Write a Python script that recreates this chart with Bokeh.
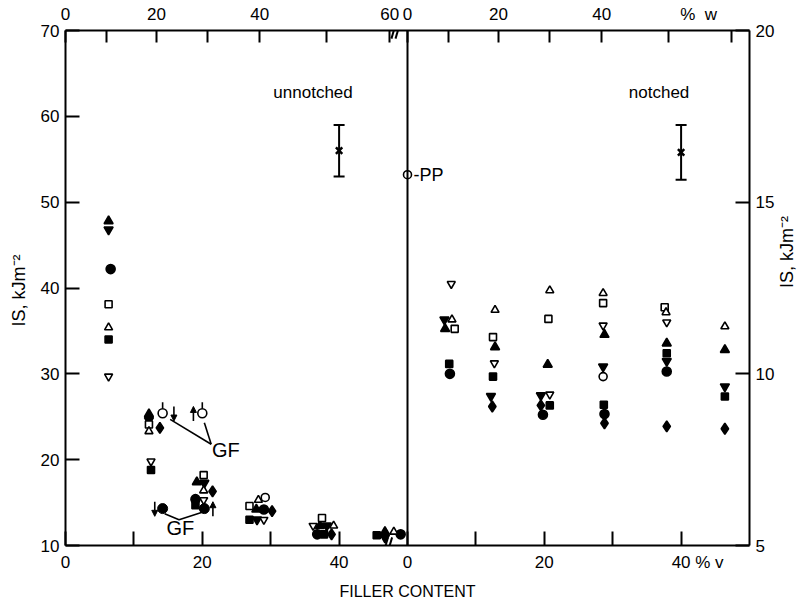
from math import pi

from bokeh.plotting import figure
from bokeh.models import Range1d, LinearAxis, FixedTicker, Label, Span, Arrow, NormalHead
from bokeh.embed import file_html
from bokeh.resources import INLINE

# ---------------- data ----------------
# filler content in vol %, impact strength IS in kJ m^-2

# unnotched specimens (left panel, left scale 10-70)
un_tri_x = [6.3, 12.2, 19.2, 27.9, 37.2, 46.7]
un_tri_y = [47.8, 25.3, 17.4, 14.2, 12.3, 11.6]
un_itri_x = [6.3, 12.2, 20.3, 28.0, 38.2, 46.7]
un_itri_y = [46.8, 24.6, 17.3, 13.0, 12.3, 10.9]
un_circ_x = [6.6, 19.0, 29.0, 36.8, 49.0]
un_circ_y = [42.2, 15.4, 14.2, 11.3, 11.3]
un_osq_x = [6.3, 12.2, 20.2, 26.9, 37.5]
un_osq_y = [38.1, 24.1, 18.2, 14.6, 13.2]
un_otri_x = [6.3, 12.2, 20.2, 28.2, 39.2, 48.0]
un_otri_y = [35.4, 23.3, 16.4, 15.3, 12.3, 11.6]
un_sq_x = [6.3, 12.5, 19.0, 26.9, 37.8, 45.5]
un_sq_y = [34.0, 18.8, 14.7, 13.0, 11.3, 11.2]
un_oitri_x = [6.3, 12.5, 20.2, 29.0, 36.2]
un_oitri_y = [29.7, 19.8, 15.3, 13.0, 12.3]
un_ocirc_x = [29.2]
un_ocirc_y = [15.6]
un_dia_x = [13.8, 21.5, 30.2, 38.9]
un_dia_y = [23.7, 16.3, 14.0, 11.3]

# glass fibre (GF) points, unnotched
gf_open_x = [14.2, 20.0]
gf_open_y = [25.4, 25.4]
gf_fill_x = [14.2, 20.3]
gf_fill_y = [14.3, 14.3]

# notched specimens (right panel, right scale 5-20)
n_tri_x = [5.5, 12.8, 20.5, 28.8, 37.9, 46.4]
n_tri_y = [11.31, 10.78, 10.27, 11.14, 10.89, 10.70]
n_itri_x = [5.4, 12.2, 19.5, 28.6, 37.9, 46.4]
n_itri_y = [11.58, 9.35, 9.37, 10.21, 10.37, 9.63]
n_circ_x = [6.2, 19.8, 28.8, 37.9]
n_circ_y = [10.00, 8.81, 8.83, 10.07]
n_osq_x = [6.9, 12.5, 20.6, 28.6, 37.6]
n_osq_y = [11.31, 11.07, 11.60, 12.06, 11.94]
n_otri_x = [6.5, 12.8, 20.8, 28.6, 37.8, 46.4]
n_otri_y = [11.58, 11.86, 12.43, 12.35, 11.79, 11.38]
n_sq_x = [6.1, 12.5, 20.8, 28.7, 37.9, 46.4]
n_sq_y = [10.29, 9.92, 9.08, 9.10, 10.60, 9.34]
n_oitri_x = [6.4, 12.7, 20.8, 28.6, 37.9]
n_oitri_y = [12.62, 10.31, 9.40, 11.41, 11.50]
n_ocirc_x = [28.6]
n_ocirc_y = [9.92]
n_dia_x = [12.4, 19.5, 28.8, 37.9, 46.4]
n_dia_y = [9.05, 9.08, 8.56, 8.47, 8.40]

# unfilled polypropylene, unnotched
pp_x = [0.0]
pp_y = [53.2]

# scatter bars (centre, half width)
err_un_x = [40.0]
err_un_y = [56.0]
err_un_half = [3.0]
err_n_x = [40.0]
err_n_y = [16.45]
err_n_half = [0.8]

# axis ticks
is_left_ticks = [10, 20, 30, 40, 50, 60, 70]
is_right_ticks = [5, 10, 15, 20]
vol_ticks = [0, 10, 20, 30, 40]
vol_labels = ["0", "", "20", "", "40"]
wt_ticks = [0, 10, 20, 30, 40, 50, 60]
wt_tick_vol = [0.0, 6.0, 13.3, 20.8, 28.4, 38.2, 47.4]
wt_labels_left = ["0", "", "20", "", "40", "", "60"]
wt_labels_right = ["0", "", "20", "", "40", "", ""]

FONT = "Liberation Sans"
PANEL = 50.0  # width of each panel in vol %
NB = "\u00a0"

p = figure(width=810, height=602,
           x_range=Range1d(0, 2 * PANEL), y_range=Range1d(10, 70),
           x_axis_location=None, y_axis_location=None,
           output_backend="svg", toolbar_location=None,
           min_border_left=65, min_border_right=58,
           min_border_top=30, min_border_bottom=57)
p.extra_y_ranges = {"notched": Range1d(5, 20)}
p.extra_x_ranges = {"notched": Range1d(-PANEL, PANEL)}
p.grid.grid_line_color = None
p.outline_line_color = None
p.background_fill_color = "white"
p.border_fill_color = "white"


def style_axis(ax, tick_in=14, standoff=6):
    ax.axis_line_width = 2
    ax.axis_line_color = "black"
    ax.major_tick_line_width = 2
    ax.major_tick_line_color = "black"
    ax.major_tick_in = tick_in
    ax.major_tick_out = 0
    ax.minor_tick_in = 0
    ax.minor_tick_out = 0
    ax.major_label_text_font = FONT
    ax.major_label_text_font_size = "17px"
    ax.major_label_text_color = "black"
    ax.major_label_standoff = standoff
    ax.axis_label_text_font = FONT
    ax.axis_label_text_font_style = "normal"
    ax.axis_label_text_color = "black"


IS_LABEL = "IS,  kJm\u207b\u00b2"

left_ax = LinearAxis(ticker=FixedTicker(ticks=is_left_ticks), axis_label=IS_LABEL)
style_axis(left_ax)
left_ax.axis_label_text_font_size = "18px"
left_ax.axis_label_standoff = 9
p.add_layout(left_ax, "left")

right_ax = LinearAxis(y_range_name="notched", ticker=FixedTicker(ticks=is_right_ticks),
                      axis_label=IS_LABEL)
style_axis(right_ax)
right_ax.axis_label_text_font_size = "18px"
right_ax.axis_label_standoff = 10
right_ax.axis_label_orientation = pi / 2
p.add_layout(right_ax, "right")

bottom_ticks = [float(v) for v in vol_ticks] + [PANEL + v for v in vol_ticks]
bottom_labels = vol_labels + vol_labels[:-1] + [NB * 7 + "40 % v"]
bottom_ax = LinearAxis(ticker=FixedTicker(ticks=bottom_ticks), axis_label="FILLER CONTENT")
bottom_ax.major_label_overrides = {t: s for t, s in zip(bottom_ticks, bottom_labels)}
style_axis(bottom_ax, standoff=7)
bottom_ax.axis_label_text_font_size = "16px"
bottom_ax.axis_label_standoff = 8
p.add_layout(bottom_ax, "below")

top_ticks = list(wt_tick_vol) + [PANEL + v for v in wt_tick_vol]
top_labels = wt_labels_left + wt_labels_right[:-1] + ["%" + NB + NB + "w" + NB * 14]
top_ax = LinearAxis(ticker=FixedTicker(ticks=top_ticks))
top_ax.major_label_overrides = {t: s for t, s in zip(top_ticks, top_labels)}
style_axis(top_ax, tick_in=12, standoff=7)
p.add_layout(top_ax, "above")

# panel divider
p.add_layout(Span(location=PANEL, dimension="height", line_color="black", line_width=2))

# scale breaks on the top and bottom axes
for xb, yb in ((48.3, 70.0), (47.1, 10.0)):
    p.segment(x0=[xb - 0.65, xb - 0.05], y0=[yb - 0.95, yb - 0.95],
              x1=[xb + 0.05, xb + 0.65], y1=[yb + 0.95, yb + 0.95],
              line_color="black", line_width=2)

# marker styles: (marker, filled, size)
STY = {
    "tri": ("triangle", True, 9),
    "itri": ("inverted_triangle", True, 9),
    "circ": ("circle", True, 9),
    "osq": ("square", False, 7),
    "otri": ("triangle", False, 8),
    "sq": ("square", True, 7),
    "oitri": ("inverted_triangle", False, 8),
    "ocirc": ("circle", False, 8),
    "dia": ("diamond", True, 11),
}


def draw(kind, xs, ys, notched):
    marker, filled, size = STY[kind]
    kw = dict(x_range_name="notched", y_range_name="notched") if notched else {}
    p.scatter(xs, ys, marker=marker, size=size,
              fill_color="black" if filled else "white",
              line_color="black", line_width=1.6, **kw)


draw("tri", un_tri_x, un_tri_y, False)
draw("itri", un_itri_x, un_itri_y, False)
draw("circ", un_circ_x, un_circ_y, False)
draw("osq", un_osq_x, un_osq_y, False)
draw("otri", un_otri_x, un_otri_y, False)
draw("sq", un_sq_x, un_sq_y, False)
draw("oitri", un_oitri_x, un_oitri_y, False)
draw("ocirc", un_ocirc_x, un_ocirc_y, False)
draw("dia", un_dia_x, un_dia_y, False)

draw("tri", n_tri_x, n_tri_y, True)
draw("itri", n_itri_x, n_itri_y, True)
draw("circ", n_circ_x, n_circ_y, True)
draw("osq", n_osq_x, n_osq_y, True)
draw("otri", n_otri_x, n_otri_y, True)
draw("sq", n_sq_x, n_sq_y, True)
draw("oitri", n_oitri_x, n_oitri_y, True)
draw("ocirc", n_ocirc_x, n_ocirc_y, True)
draw("dia", n_dia_x, n_dia_y, True)

# glass fibre points with orientation arrows
p.scatter(gf_open_x, gf_open_y, marker="circle", size=9, fill_color="white",
          line_color="black", line_width=1.6)
p.segment(x0=gf_open_x, y0=[y + 0.55 for y in gf_open_y],
          x1=gf_open_x, y1=[y + 1.3 for y in gf_open_y], line_color="black", line_width=1.6)
p.scatter(gf_fill_x, gf_fill_y, marker="circle", size=10, fill_color="black",
          line_color="black")
arrow_dx = [1.65, -1.3, -1.15, 1.25]
arrow_down = [True, False, True, False]
for x0, y0, dx, down in zip(gf_open_x + gf_fill_x, gf_open_y + gf_fill_y, arrow_dx, arrow_down):
    ys, ye = (y0 + 0.8, y0 - 0.9) if down else (y0 - 0.9, y0 + 0.8)
    p.add_layout(Arrow(x_start=x0 + dx, y_start=ys, x_end=x0 + dx, y_end=ye,
                       line_width=1.6, line_color="black",
                       end=NormalHead(size=6, fill_color="black", line_color="black")))

# leader lines to the GF labels
p.line([gf_open_x[0] + 1.1, 21.3], [gf_open_y[0] - 0.7, 21.8], line_color="black", line_width=1.6)
p.line([gf_open_x[1] + 0.3, 21.3], [gf_open_y[1] - 1.1, 21.8], line_color="black", line_width=1.6)
p.line([gf_fill_x[0] + 0.3, 16.6, gf_fill_x[1] - 0.2], [gf_fill_y[0] - 0.6, 13.0, gf_fill_y[1] - 0.4],
       line_color="black", line_width=1.6)
p.add_layout(Label(x=21.4, y=21.1, text="GF", text_font=FONT, text_font_size="20px",
                   text_color="black", text_baseline="middle", text_align="left"))
p.add_layout(Label(x=16.8, y=12.0, text="GF", text_font=FONT, text_font_size="20px",
                   text_color="black", text_baseline="middle", text_align="center"))

# unfilled PP
p.scatter(pp_x, pp_y, x_range_name="notched", marker="circle", size=8,
          fill_color="white", line_color="black", line_width=1.6)
p.add_layout(Label(x=PANEL, y=pp_y[0], x_offset=6, text="-PP", text_font=FONT,
                   text_font_size="18px", text_color="black", text_baseline="middle"))

# scatter bars
for xs, ys, hs, notched in ((err_un_x, err_un_y, err_un_half, False),
                            (err_n_x, err_n_y, err_n_half, True)):
    kw = dict(x_range_name="notched", y_range_name="notched") if notched else {}
    p.segment(x0=xs, y0=[y - h for y, h in zip(ys, hs)], x1=xs,
              y1=[y + h for y, h in zip(ys, hs)], line_color="black", line_width=2, **kw)
    p.scatter(xs + xs, [y - h for y, h in zip(ys, hs)] + [y + h for y, h in zip(ys, hs)],
              marker="dash", size=11, line_color="black", line_width=2, **kw)
    p.scatter(xs, ys, marker="x", size=9, line_color="black", line_width=2.5, **kw)

# panel titles
p.add_layout(Label(x=42.0, y=62.8, text="unnotched", text_font=FONT, text_font_size="17px",
                   text_color="black", text_baseline="middle", text_align="right"))
p.add_layout(Label(x=PANEL + 41.2, y=62.8, text="notched", text_font=FONT,
                   text_font_size="17px", text_color="black", text_baseline="middle",
                   text_align="right"))

open("out.html", "w").write(file_html(p, INLINE))
